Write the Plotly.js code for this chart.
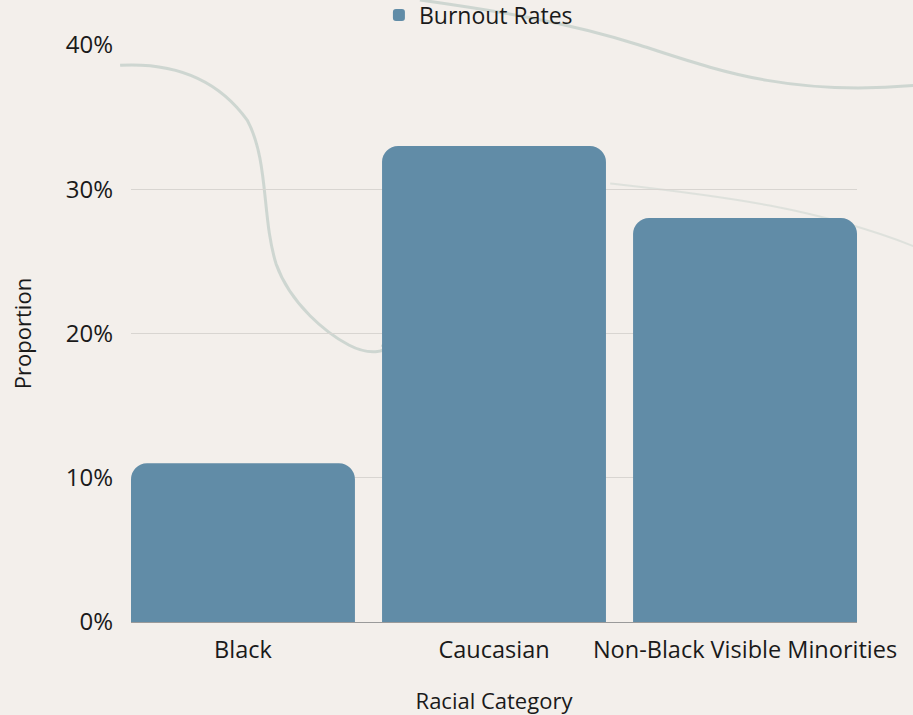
<!DOCTYPE html>
<html>
<head>
<meta charset="utf-8">
<script src="https://cdn.plot.ly/plotly-3.0.1.min.js"></script>
<style>
html,body{margin:0;padding:0;background:#f3efeb;}
#chart{width:913px;height:715px;}
</style>
</head>
<body>
<div id="chart"></div>
<script>
const categories = ["Black", "Caucasian", "Non-Black Visible Minorities"];
const burnoutRates = [0.11, 0.33, 0.28];
const seriesName = "Burnout Rates";
const yTickVals = [0, 0.1, 0.2, 0.3, 0.4];
const yTickText = ["0%", "10%", "20%", "30%", "40%"];

const FONT = "Open Sans, Noto Sans, sans-serif";
const gap = 0.108;

const trace = {
  type: "bar",
  x: categories,
  y: burnoutRates,
  name: seriesName,
  marker: {color: "#618ca7", cornerradius: 16},
  hoverinfo: "none"
};

const deco = "rgba(150,178,170,0.4)";
const layout = {
  width: 913, height: 715,
  paper_bgcolor: "#f3efeb",
  plot_bgcolor: "rgba(0,0,0,0)",
  margin: {l: 131, r: 56, t: 45, b: 93, autoexpand: false},
  bargap: gap,
  showlegend: true,
  legend: {
    orientation: "h", x: 0.524, xanchor: "center", y: 0.979, yanchor: "middle",
    yref: "container", xref: "container",
    font: {family: FONT, size: 23, color: "#1a1a1a"},
    bgcolor: "rgba(0,0,0,0)"
  },
  xaxis: {
    type: "category",
    range: [-0.5 + gap/2, 2.5 - gap/2],
    showgrid: false,
    showline: true, linecolor: "#9a9a9a", linewidth: 1,
    ticks: "", ticklabelstandoff: 7, tickangle: 0,
    tickfont: {family: FONT, size: 23.5, color: "#1a1a1a"},
    title: {text: "Racial Category", font: {family: FONT, size: 22, color: "#1a1a1a"}, standoff: 29}
  },
  yaxis: {
    range: [0, 0.4],
    tickvals: yTickVals, ticktext: yTickText,
    showgrid: true, gridcolor: "#d8d5d1", gridwidth: 1,
    zeroline: false, showline: false, ticks: "", ticklabelstandoff: 17,
    tickfont: {family: FONT, size: 24, color: "#1a1a1a"},
    title: {text: "Proportion", font: {family: FONT, size: 22, color: "#1a1a1a"}, standoff: 28}
  },
  shapes: [
    {type: "path", xref: "paper", yref: "paper", layer: "below",
     path: "M -0.015 0.965 C 0.06 0.97, 0.12 0.94, 0.16 0.87 C 0.19 0.8, 0.18 0.7, 0.2 0.62 C 0.22 0.55, 0.27 0.5, 0.3 0.48 C 0.33 0.46, 0.36 0.47, 0.345 0.48",
     line: {color: deco, width: 3}},
    {type: "path", xref: "paper", yref: "paper", layer: "below",
     path: "M 0.398 1.078 C 0.5 1.06, 0.6 1.04, 0.7 1.0 C 0.8 0.96, 0.9 0.91, 1.08 0.93",
     line: {color: deco, width: 3}},
    {type: "path", xref: "paper", yref: "paper", layer: "below",
     path: "M 0.66 0.76 C 0.8 0.74, 0.95 0.72, 1.1 0.64",
     line: {color: "rgba(150,178,170,0.22)", width: 2}}
  ]
};

Plotly.newPlot("chart", [trace], layout, {displayModeBar: false, staticPlot: true});
</script>
</body>
</html>
